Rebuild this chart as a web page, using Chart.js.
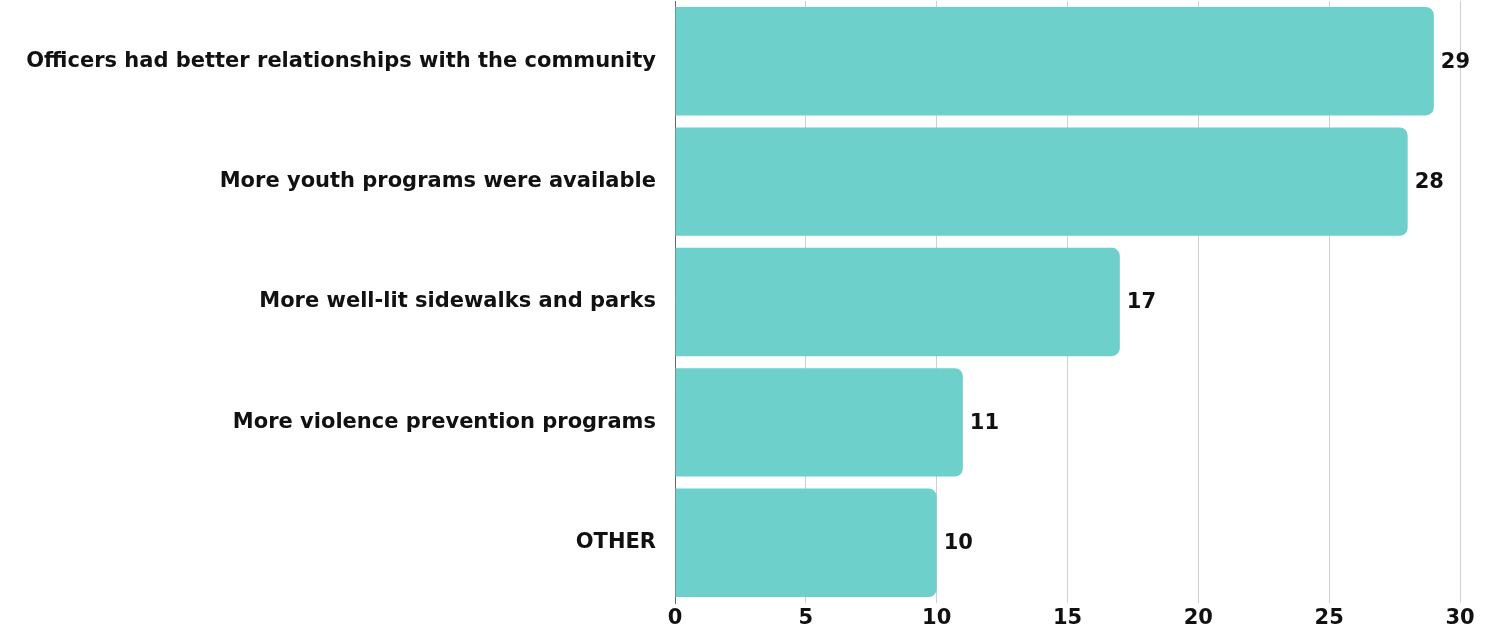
<!DOCTYPE html>
<html lang="en">
<head>
  <meta charset="UTF-8">
  <title>Survey responses</title>
  <script src="https://cdn.jsdelivr.net/npm/chart.js@4.4.1/dist/chart.umd.min.js"></script>
  <style>
    body { margin: 0; background: #fff; }
    #wrap { width: 1492px; height: 631px; position: relative; }
  </style>
</head>
<body>
  <div id="wrap"><canvas id="chart"></canvas></div>
  <script>
    const categories = [
      'Officers had better relationships with the community',
      'More youth programs were available',
      'More well-lit sidewalks and parks',
      'More violence prevention programs',
      'OTHER'
    ];
    const responses = [29, 28, 17, 11, 10];
    const xTicks = [0, 5, 10, 15, 20, 25, 30];

    const FONT = '"DejaVu Sans", sans-serif';

    // value labels at the end of each bar
    const endLabels = {
      id: 'endLabels',
      afterDatasetsDraw(chart) {
        const ctx = chart.ctx;
        const meta = chart.getDatasetMeta(0);
        ctx.save();
        ctx.font = 'bold 21px ' + FONT;
        ctx.fillStyle = '#111';
        ctx.textAlign = 'left';
        ctx.textBaseline = 'middle';
        meta.data.forEach((bar, i) => {
          ctx.fillText(responses[i], bar.x + 7, bar.y + 1);
        });
        ctx.restore();
      }
    };

    new Chart(document.getElementById('chart'), {
      type: 'bar',
      data: {
        labels: categories,
        datasets: [{
          data: responses,
          backgroundColor: '#6dd0cb',
          borderRadius: 8,
          borderSkipped: 'start',
          categoryPercentage: 0.9,
          barPercentage: 1
        }]
      },
      options: {
        indexAxis: 'y',
        responsive: true,
        maintainAspectRatio: false,
        animation: false,
        layout: { padding: { top: 1, right: 32, left: 0, bottom: 0 } },
        plugins: { legend: { display: false }, tooltip: { enabled: false } },
        scales: {
          x: {
            min: 0,
            max: 30,
            afterBuildTicks: s => { s.ticks = xTicks.map(v => ({ value: v })); },
            grid: { color: '#cfcfcf', drawTicks: false },
            border: { display: false },
            ticks: { color: '#111', font: { family: FONT, size: 21, weight: 'bold' }, padding: 3 },
            afterFit: s => { s.height = 28; s.paddingLeft = 0; s.paddingRight = 0; }
          },
          y: {
            grid: { display: false, drawTicks: false },
            border: { display: true, color: '#666', width: 1 },
            ticks: { color: '#111', font: { family: FONT, size: 21, weight: 'bold' }, padding: 19 },
            afterFit: s => { s.width = 675; s.paddingTop = 0; s.paddingBottom = 0; }
          }
        }
      },
      plugins: [endLabels]
    });
  </script>
</body>
</html>
